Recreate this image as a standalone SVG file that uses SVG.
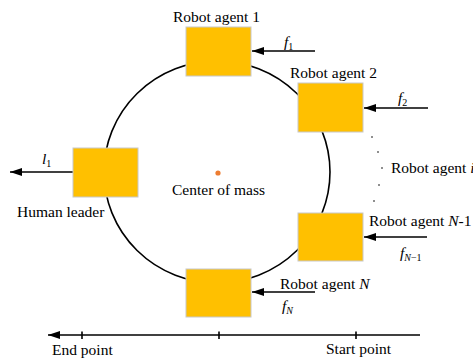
<svg xmlns="http://www.w3.org/2000/svg" width="473" height="360" viewBox="0 0 473 360">
  <style>
    .agent { fill: #FFC000; stroke: #c8c8c8; stroke-width: 1; }
    .lbl { font-family: "Liberation Serif", "Times New Roman", serif; font-size: 15.5px; fill: #000; }
    .it { font-style: italic; }
    .sub { font-size: 10px; }
    .conn { stroke: #000; stroke-width: 1.6; fill: none; }
    .dot { fill: #000; }
  </style>
  <defs>
    <marker id="arrow" markerUnits="userSpaceOnUse" markerWidth="14" markerHeight="10" refX="12" refY="4" orient="auto">
      <path d="M0,0 L12,4 L0,8 Z" fill="#000"/>
    </marker>
  </defs>
  <rect width="473" height="360" fill="#fff"/>

  <!-- formation ring -->
  <ellipse cx="217" cy="172" rx="113" ry="111" class="conn"/>

  <!-- force / motion connectors -->
  <g id="connectors">
    <line x1="315" y1="51" x2="252" y2="51" class="conn" marker-end="url(#arrow)"/>
    <line x1="428" y1="108" x2="364" y2="108" class="conn" marker-end="url(#arrow)"/>
    <line x1="73" y1="172" x2="10" y2="172" class="conn" marker-end="url(#arrow)"/>
    <line x1="427" y1="237" x2="364" y2="237" class="conn" marker-end="url(#arrow)"/>
    <line x1="315" y1="292" x2="252" y2="292" class="conn" marker-end="url(#arrow)"/>
    <!-- path axis -->
    <line x1="420" y1="335" x2="48" y2="335" class="conn" marker-end="url(#arrow)"/>
    <line x1="82" y1="331.5" x2="82" y2="339" class="conn"/>
    <line x1="219" y1="331.5" x2="219" y2="339" class="conn"/>
    <line x1="356" y1="331.5" x2="356" y2="339" class="conn"/>
  </g>

  <g id="agent1">
    <rect x="186" y="27" width="65" height="49" class="agent"/>
    <text x="173" y="22" class="lbl">Robot agent 1</text>
    <text x="284" y="47" class="lbl"><tspan class="it">f</tspan><tspan class="sub" dy="3">1</tspan></text>
  </g>

  <g id="agent2">
    <rect x="298" y="83" width="65" height="49" class="agent"/>
    <text x="290" y="78" class="lbl">Robot agent 2</text>
    <text x="398" y="103" class="lbl"><tspan class="it">f</tspan><tspan class="sub" dy="3">2</tspan></text>
  </g>

  <g id="agent-i">
    <circle cx="372" cy="137" r="0.8" class="dot"/>
    <circle cx="378" cy="152" r="0.8" class="dot"/>
    <circle cx="382" cy="168" r="0.8" class="dot"/>
    <circle cx="379" cy="185" r="0.8" class="dot"/>
    <circle cx="374" cy="201" r="0.8" class="dot"/>
    <text x="391" y="173" class="lbl">Robot agent <tspan class="it">i</tspan></text>
  </g>

  <g id="agentN1">
    <rect x="298" y="213" width="65" height="48" class="agent"/>
    <text x="369" y="226" class="lbl">Robot agent <tspan class="it">N</tspan>-1</text>
    <text x="400" y="258" class="lbl"><tspan class="it">f</tspan><tspan class="sub" dy="3"><tspan class="it">N</tspan>−1</tspan></text>
  </g>

  <g id="agentN">
    <rect x="186" y="269" width="65" height="48" class="agent"/>
    <text x="280" y="289" class="lbl">Robot agent <tspan class="it">N</tspan></text>
    <text x="282" y="311" class="lbl"><tspan class="it">f</tspan><tspan class="sub it" dy="3">N</tspan></text>
  </g>

  <g id="leader">
    <rect x="73" y="148" width="65" height="49" class="agent"/>
    <text x="17" y="217" class="lbl">Human leader</text>
    <text x="42" y="164" class="lbl"><tspan class="it">l</tspan><tspan class="sub" dy="3">1</tspan></text>
  </g>

  <g id="center">
    <circle cx="218" cy="173" r="2.6" fill="#ED7D31"/>
    <text x="172" y="195" class="lbl">Center of mass</text>
  </g>

  <g id="axis-labels">
    <text x="52" y="355" class="lbl">End point</text>
    <text x="326" y="354" class="lbl">Start point</text>
  </g>
</svg>
